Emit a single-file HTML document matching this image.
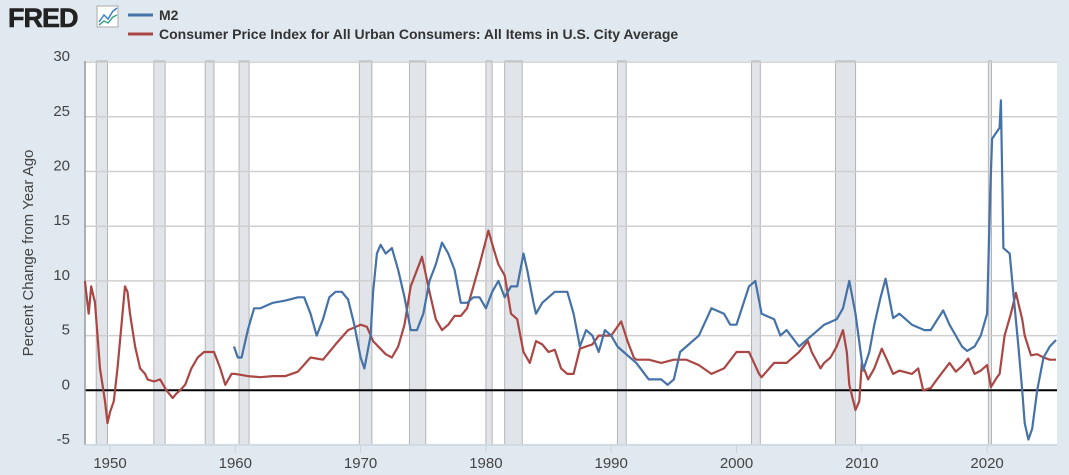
<!DOCTYPE html>
<html><head><meta charset="utf-8"><style>
body{margin:0;background:#e1e9f0;font-family:"Liberation Sans",Arial,sans-serif}
#wrap{position:relative;width:1069px;height:475px;overflow:hidden;background:#e1e9f0}
</style></head><body>
<div id="wrap">
<svg id="chart" width="1069" height="475" xmlns="http://www.w3.org/2000/svg">
<g>
<text x="8" y="27" font-size="27" font-weight="bold" fill="#222" stroke="#222" stroke-width="0.6" font-family="Liberation Sans, sans-serif" letter-spacing="-1">FRED</text>
<rect x="97" y="6" width="21" height="21" fill="#fff" stroke="#aaa"/>
<polyline points="99,22 104,15 108,19 113,11 117,8" fill="none" stroke="#3b7fd0" stroke-width="1.5"/>
<polyline points="99,25 104,21 108,23 113,17 117,15" fill="none" stroke="#3aa58a" stroke-width="1.5"/>
</g>
<g>
<line x1="128" y1="15" x2="153" y2="15" stroke="#4572a7" stroke-width="3"/>
<text x="159" y="20" font-size="14" font-weight="bold" fill="#333">M2</text>
<line x1="128" y1="34" x2="153" y2="34" stroke="#aa4643" stroke-width="3"/>
<text x="159" y="39" font-size="14" font-weight="bold" fill="#333">Consumer Price Index for All Urban Consumers: All Items in U.S. City Average</text>
</g>
<rect x="85" y="61" width="972" height="384" fill="#fff"/>
<g id="rec"></g>
<g id="grid"></g>
<g id="yt"></g>
<g id="xt"></g>
<text transform="translate(33,253) rotate(-90)" text-anchor="middle" font-size="15" fill="#444">Percent Change from Year Ago</text>
<g id="series"></g>
</svg>
</div>
<script>
const recStart=[1948.9,1953.5,1957.6,1960.3,1969.9,1973.9,1980.0,1981.5,1990.5,2001.2,2007.9,2020.1];
const recEnd=[1949.8,1954.4,1958.3,1961.1,1970.9,1975.2,1980.5,1982.9,1991.2,2001.9,2009.5,2020.35];
const yTicks=[-5,0,5,10,15,20,25,30];
const xTicks=[1950,1960,1970,1980,1990,2000,2010,2020];
const cpiYears=[1948.0,1948.3,1948.5,1948.8,1949.2,1949.6,1949.8,1950.0,1950.3,1950.6,1951.0,1951.2,1951.4,1951.6,1952.0,1952.4,1952.8,1953.0,1953.5,1954.0,1954.5,1955.0,1955.3,1955.6,1956.0,1956.5,1957.0,1957.5,1958.0,1958.3,1958.8,1959.2,1959.7,1960,1961,1962,1963,1964,1965,1966,1967,1968,1969,1970,1970.5,1971,1972,1972.5,1973,1973.5,1974,1974.5,1974.9,1975.5,1976,1976.5,1977,1977.5,1978,1978.5,1979,1979.5,1980.2,1980.6,1981,1981.5,1982,1982.5,1983,1983.5,1984,1984.5,1985,1985.5,1986,1986.5,1987,1987.5,1988,1988.5,1989,1989.5,1990,1990.8,1991.3,1991.8,1992,1993,1994,1995,1996,1997,1998,1999,2000,2000.5,2001,2001.8,2002,2003,2004,2005,2005.7,2006,2006.7,2007,2007.5,2008,2008.5,2008.8,2009.0,2009.5,2009.8,2010,2010.5,2011,2011.6,2012,2012.5,2013,2014,2014.5,2014.9,2015.5,2016,2017,2017.5,2018,2018.5,2019,2019.5,2020,2020.3,2020.8,2021,2021.4,2021.9,2022.3,2022.8,2023,2023.5,2024,2024.5,2025,2025.5];
const cpiValues=[10,7,9.5,8,2,-1,-3,-2,-1,2,7,9.5,9,7,4,2,1.5,1,0.8,1,0,-0.7,-0.3,0,0.5,2,3,3.5,3.5,3.5,2,0.5,1.5,1.5,1.3,1.2,1.3,1.3,1.7,3,2.8,4.2,5.5,6,5.8,4.5,3.3,3,4,6,9.5,11,12.2,9,6.5,5.5,6,6.8,6.8,7.5,9.5,11.5,14.6,13,11.5,10.5,7,6.5,3.5,2.5,4.5,4.2,3.5,3.7,2,1.5,1.5,3.8,4,4.2,5,5,5,6.3,4.5,3,2.8,2.8,2.5,2.8,2.8,2.3,1.5,2,3.5,3.5,3.5,1.5,1.2,2.5,2.5,3.5,4.5,3.5,2,2.5,3,4,5.5,3.5,0.5,-1.8,-1,2.5,1,2,3.8,2.8,1.5,1.8,1.5,2,0,0.2,1,2.5,1.7,2.2,2.9,1.5,1.8,2.3,0.3,1.2,1.5,5,7,8.9,6.5,5,3.2,3.3,3,2.8,2.8];
const m2Years=[1959.9,1960.2,1960.5,1961,1961.5,1962,1963,1964,1965,1965.5,1966,1966.5,1967,1967.5,1968,1968.5,1969,1969.5,1970,1970.3,1970.8,1971,1971.3,1971.6,1972,1972.5,1973,1973.5,1974,1974.5,1975,1975.5,1976,1976.5,1977,1977.5,1978,1978.5,1979,1979.5,1980,1980.5,1981,1981.5,1982,1982.5,1983,1983.3,1983.8,1984,1984.5,1985,1985.5,1986,1986.5,1987,1987.5,1988,1988.5,1989,1989.5,1990,1990.5,1991,1991.5,1992,1993,1994,1994.5,1995,1995.5,1996,1997,1998,1999,1999.5,2000,2001,2001.5,2002,2003,2003.5,2004,2005,2006,2007,2008,2008.5,2009,2009.5,2010.1,2010.6,2011,2011.5,2011.9,2012.5,2013,2014,2015,2015.5,2016.5,2017,2018,2018.4,2019,2019.5,2020,2020.25,2020.4,2021,2021.1,2021.3,2021.8,2022,2022.5,2022.8,2023,2023.3,2023.6,2024,2024.5,2025,2025.5];
const m2Values=[4,3,3,5.5,7.5,7.5,8,8.2,8.5,8.5,7,5,6.5,8.5,9,9,8.3,6,3,2,5,9,12.5,13.3,12.5,13,11,8.5,5.5,5.5,7,10,11.5,13.5,12.5,11,8,8,8.5,8.5,7.5,9,10,8.5,9.5,9.5,12.5,11,8,7,8,8.5,9,9,9,7,4,5.5,5,3.5,5.5,5,4,3.5,3,2.5,1,1,0.5,1,3.5,4,5,7.5,7,6,6,9.5,10,7,6.5,5,5.5,4,5,6,6.5,7.5,10,7,1.8,3.5,6,8.5,10.2,6.6,7,6,5.5,5.5,7.3,6,4,3.6,4,5,7,18,23,24,26.5,13,12.5,10,4,0,-3,-4.5,-3.5,0,3,4,4.6];

const NS='http://www.w3.org/2000/svg';
const X0=85,X1=1057,Y0=61,Y1=445;
function xs(yr){return 110+(yr-1950)*12.53;}
function ys(v){return 390.3-v*10.94;}
function mk(tag,attrs,parent){const e=document.createElementNS(NS,tag);for(const k in attrs)e.setAttribute(k,attrs[k]);parent.appendChild(e);return e;}

const rec=document.getElementById('rec');
recStart.forEach((s,i)=>{
  const r=mk('rect',{x:xs(s),y:Y0,width:Math.max(2,xs(recEnd[i])-xs(s)),height:Y1-Y0,fill:'#e1e5ea',stroke:'#b4b4b4','stroke-width':1},rec);
  
  
});
const grid=document.getElementById('grid'),yt=document.getElementById('yt'),xt=document.getElementById('xt');
yTicks.forEach(v=>{
  const l=mk('line',{x1:X0,x2:X1,y1:ys(v),y2:ys(v),stroke:v===0?'#000':'#cfcfcf','stroke-width':v===0?2:1.5},grid);
  
  
  const t=mk('text',{x:70,y:ys(v)-1,'text-anchor':'end','font-size':15,fill:'#444'},yt);
  t.textContent=v;
  
  
});
xTicks.forEach(v=>{
  const l=mk('line',{x1:xs(v),x2:xs(v),y1:Y1,y2:Y1+8,stroke:'#c8d4e0','stroke-width':1},xt);
  
  
  const t=mk('text',{x:xs(v),y:468,'text-anchor':'middle','font-size':15,fill:'#444'},xt);
  t.textContent=v;
  
  
});
mk('line',{x1:X0,x2:X0,y1:Y0,y2:Y1,stroke:'#999','stroke-width':1.5},grid);
mk('line',{x1:X0,x2:X1,y1:Y1,y2:Y1,stroke:'#d0dbe6','stroke-width':2},grid);
const ser=document.getElementById('series');
function draw(years,vals,color,name){
  const pts=years.map((y,i)=>xs(Math.min(y,2025.55)).toFixed(1)+','+ys(vals[i]).toFixed(1)).join(' ');
  const p=mk('polyline',{points:pts,fill:'none',stroke:color,'stroke-width':2.2,'stroke-linejoin':'round'},ser);
  
  
}
draw(cpiYears,cpiValues,'#aa4643','cpi-line');
draw(m2Years,m2Values,'#4572a7','m2-line');
</script>
</body></html>
